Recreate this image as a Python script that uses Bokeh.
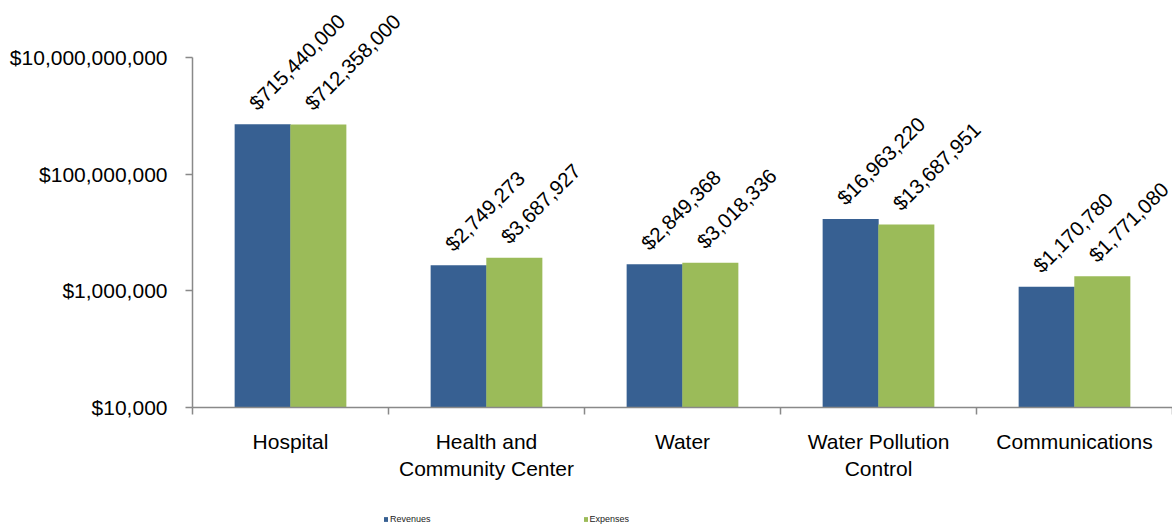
import numpy as np
from bokeh.plotting import figure
from bokeh.layouts import column
from bokeh.models import (Range1d, FixedTicker, NumeralTickFormatter, LinearAxis,
                          ColumnDataSource, Legend, LegendItem)
from bokeh.core.properties import value
from bokeh.transform import dodge
from bokeh.embed import file_html
from bokeh.resources import INLINE

categories = ["Hospital", "Health and\nCommunity Center", "Water", "Water Pollution\nControl", "Communications"]
series_names = ["Revenues", "Expenses"]
revenues = [715440000, 2749273, 2849368, 16963220, 1170780]
expenses = [712358000, 3687927, 3018336, 13687951, 1771080]
y_ticks = [1e4, 1e6, 1e8, 1e10]

BLUE = "#376092"
GREEN = "#9BBB59"
AXIS = "#898989"
FONT = "Liberation Sans"

n = len(categories)
centers = np.arange(n) + 0.5

src = ColumnDataSource(dict(
    x=centers,
    rev=revenues,
    exp=expenses,
    rev_lbl=["${:,.0f}".format(v) for v in revenues],
    exp_lbl=["${:,.0f}".format(v) for v in expenses],
    base=[1e4] * n,
))

p = figure(width=1172, height=500, y_axis_type="log",
           x_range=Range1d(0, n), y_range=Range1d(1e4, 10 ** 10.977),
           output_backend="svg", toolbar_location=None,
           min_border_left=192, min_border_right=0, min_border_top=0,
           min_border_bottom=93, x_axis_location=None)
p.outline_line_color = None
p.xgrid.visible = False
p.ygrid.visible = False
p.background_fill_color = "white"
p.border_fill_color = "white"

off = 0.142
w = 0.286
r1 = p.vbar(x=dodge("x", -off, range=p.x_range), top="rev", bottom="base", width=w,
            source=src, fill_color=BLUE, line_color=None)
r2 = p.vbar(x=dodge("x", off, range=p.x_range), top="exp", bottom="base", width=w,
            source=src, fill_color=GREEN, line_color=None)

for col, lbl, dx in (("rev", "rev_lbl", -off), ("exp", "exp_lbl", off)):
    p.text(x=dodge("x", dx, range=p.x_range), y=col, text=lbl, source=src,
           angle=45, angle_units="deg", text_align="left", text_baseline="bottom",
           x_offset=-2, y_offset=-10, text_font=value(FONT), text_font_size="20.5px",
           text_color="black")

# y axis
ya = p.yaxis[0]
ya.ticker = FixedTicker(ticks=y_ticks, minor_ticks=[])
ya.formatter = NumeralTickFormatter(format="$0,0")
ya.bounds = (1e4, 1e10)
ya.axis_line_color = AXIS
ya.axis_line_width = 1.5
ya.major_tick_line_color = AXIS
ya.major_tick_line_width = 1.5
ya.major_tick_out = 7
ya.major_tick_in = 0
ya.minor_tick_line_color = None
ya.major_label_text_font = FONT
ya.major_label_text_font_size = "21px"
ya.major_label_text_color = "black"
ya.major_label_standoff = 18

# x axis: labels at category centres, boundary ticks as minor ticks
xa = LinearAxis(ticker=FixedTicker(ticks=list(centers), minor_ticks=list(range(n + 1))))
xa.major_label_overrides = {float(c): cat for c, cat in zip(centers, categories)}
xa.axis_line_color = AXIS
xa.axis_line_width = 1.5
xa.major_tick_line_color = None
xa.major_tick_out = 0
xa.major_tick_in = 0
xa.minor_tick_line_color = AXIS
xa.minor_tick_line_width = 1.5
xa.minor_tick_out = 7
xa.minor_tick_in = 0
xa.major_label_text_font = FONT
xa.major_label_text_font_size = "21px"
xa.major_label_text_color = "black"
xa.major_label_standoff = 15
p.add_layout(xa, "below")

# legend strip underneath (its frame is aligned with the main frame, left = 192)
lg = figure(width=1172, height=25, x_range=Range1d(0, 1), y_range=Range1d(0, 1),
            output_backend="svg", toolbar_location=None,
            min_border_left=0, min_border_right=0, min_border_top=0, min_border_bottom=0)
lg.axis.visible = False
lg.xgrid.visible = False
lg.ygrid.visible = False
lg.outline_line_color = None
lr1 = lg.vbar(x=[-10], top=[-10], bottom=[-11], width=0.1, fill_color=BLUE, line_color=None)
lr2 = lg.vbar(x=[-10], top=[-10], bottom=[-11], width=0.1, fill_color=GREEN, line_color=None)
legend = Legend(items=[LegendItem(label=series_names[0], renderers=[lr1]),
                       LegendItem(label=series_names[1], renderers=[lr2])],
                orientation="horizontal", location=(191, 1),
                glyph_width=5, glyph_height=6, label_standoff=2, spacing=152,
                padding=0, margin=0, border_line_color=None,
                background_fill_alpha=0, label_text_font=FONT,
                label_text_font_size="9px", label_text_color="#222222",
                label_height=9)
lg.add_layout(legend)

layout = column(p, lg, spacing=0)
open("out.html", "w").write(file_html(layout, INLINE))
